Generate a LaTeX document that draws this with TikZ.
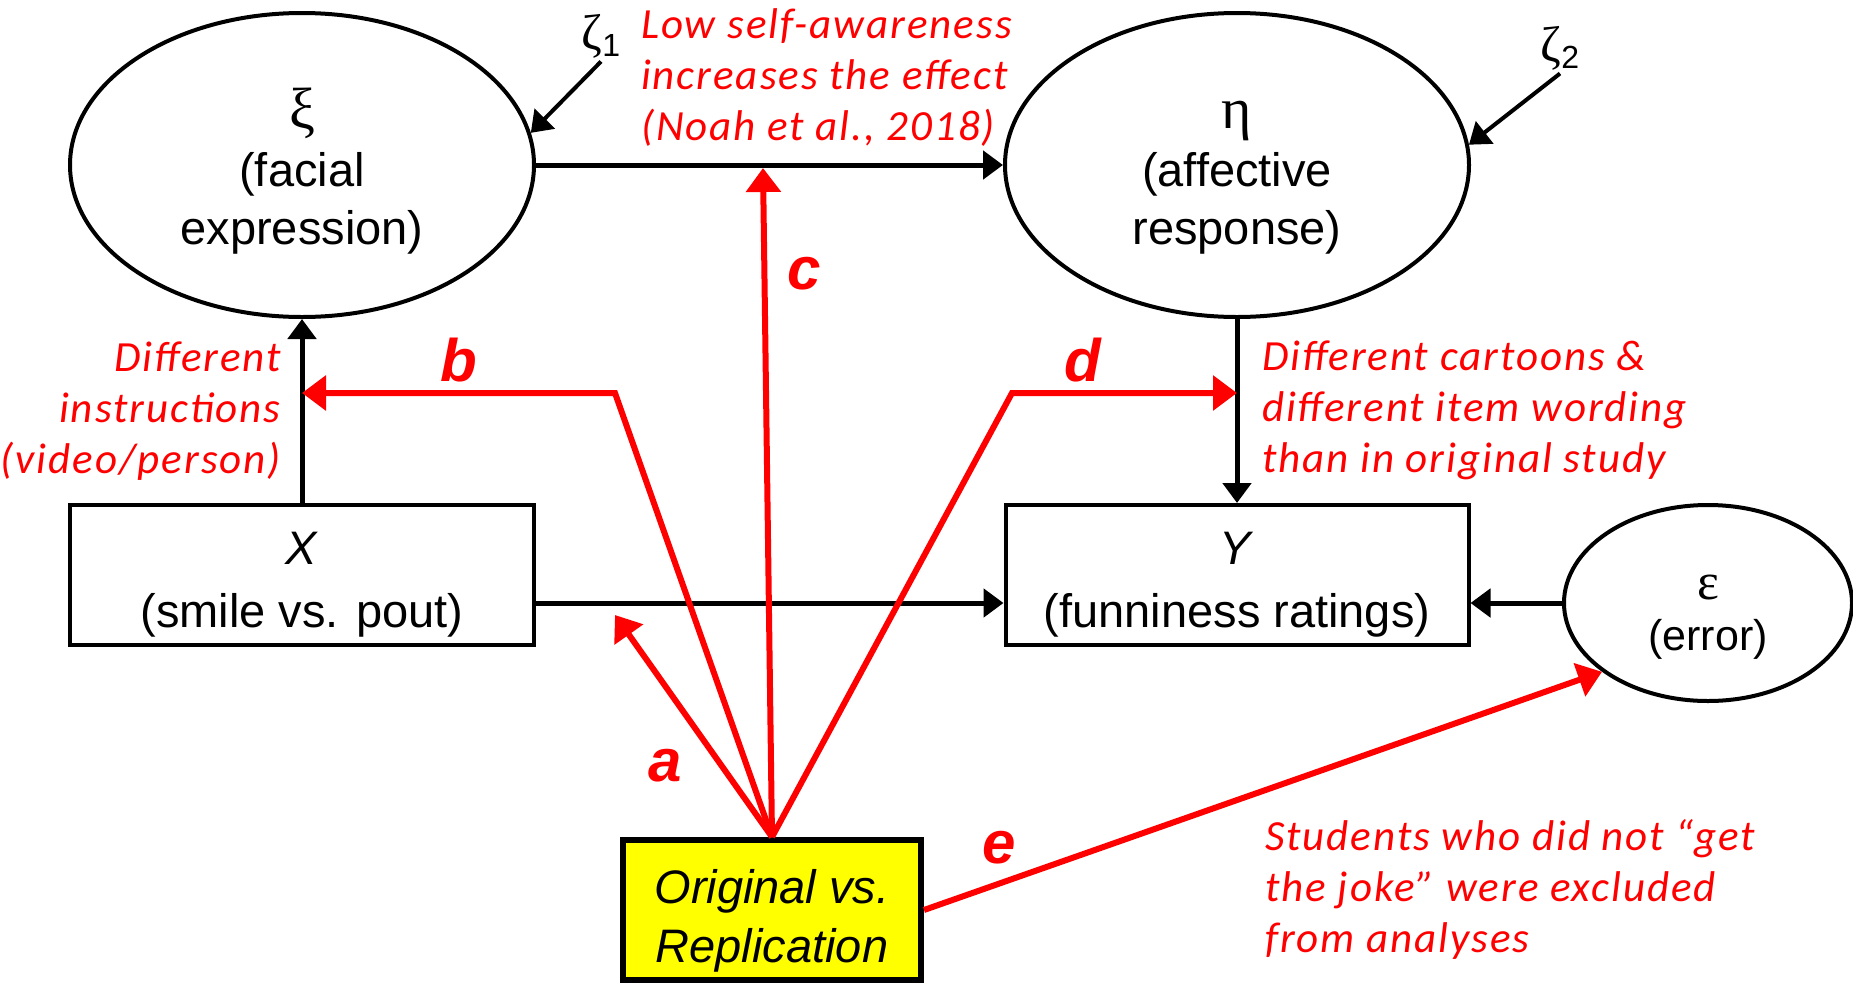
\documentclass[tikz,border=0pt]{standalone}
\usepackage{fontspec}
\setmainfont{Liberation Sans}
\newfontfamily\notefont[LetterSpace=4.5]{Carlito}
\newfontfamily\greekfont{Liberation Serif}
\usepackage{xcolor}
\usetikzlibrary{shapes.geometric,arrows.meta}
\definecolor{notered}{HTML}{FF0000}
\definecolor{boxyellow}{HTML}{FFFF00}
\newcommand{\padtop}[1]{\rule{0pt}{#1}}

\begin{document}
\begin{tikzpicture}[
x=1pt,
y=-1pt,
latent/.style={
ellipse,
draw,
line width=4pt,
inner sep=0pt,
align=center,
font=\fontsize{47}{58}\selectfont
},
observed/.style={
rectangle,
draw,
line width=4pt,
inner sep=0pt,
align=center,
font=\fontsize{47}{63}\selectfont
},
path/.style={
-{Triangle[length=20pt,width=28pt]},
line width=5pt
},
mod/.style={
-{Triangle[length=24pt,width=34pt]},
line width=6pt,
color=notered
},
note/.style={
text=notered,
inner sep=0pt,
font=\notefont\itshape\fontsize{43}{51}\selectfont
},
letter/.style={
text=notered,
inner sep=0pt,
font=\bfseries\itshape\fontsize{60}{60}\selectfont
}
]

\useasboundingbox (0,0) rectangle (1853,983);

\node[latent, minimum width=464pt, minimum height=304pt] (xi) at (302,165)
{\padtop{52pt}{\greekfont\fontsize{58}{58}\selectfont ξ}\\(facial\\expression)};

\node[latent, minimum width=464pt, minimum height=304pt] (eta) at (1237,165)
{\padtop{52pt}{\greekfont\fontsize{58}{58}\selectfont η}\\(affective\\response)};

\node[observed, minimum width=464pt, minimum height=140pt] (X) at (302,575)
{\padtop{51pt}\textit{X}\\(smile vs. pout)};

\node[observed, minimum width=463pt, minimum height=140pt] (Y) at (1237,575)
{\padtop{51pt}\textit{Y}\\(funniness ratings)};

\node[latent, minimum width=288pt, minimum height=196pt,
font=\fontsize{43}{51}\selectfont] (eps) at (1708,603)
{\padtop{52pt}{\greekfont\fontsize{52}{52}\selectfont ε}\\(error)};

\node[observed, fill=boxyellow, line width=6pt, minimum width=298pt,
minimum height=140pt, font=\itshape\fontsize{47}{59}\selectfont] (orig) at (772,910)
{\padtop{55pt}Original vs.\\Replication};

\node[font=\fontsize{50}{50}\selectfont] (zeta1) at (601,36)
{{\greekfont ζ}\raisebox{-7pt}{\fontsize{32}{32}\selectfont 1}};

\node[font=\fontsize{50}{50}\selectfont] (zeta2) at (1560,48)
{{\greekfont ζ}\raisebox{-7pt}{\fontsize{32}{32}\selectfont 2}};

% structural paths
\draw[path] (xi.east) -- (eta.west);
\draw[path] (X.north) -- (xi.south);
\draw[path] (eta.south) -- (Y.north);
\draw[path] (X.east |- eps.west) -- (Y.west |- eps.west);
\draw[path] (eps.west) -- (Y.east |- eps.west);
\draw[path, line width=4pt] (zeta1.south) -- (xi.8);
\draw[path, line width=4pt] (zeta2.south) -- (eta.5);

% moderator paths
\coordinate (bbend) at (615,393);
\coordinate (dbend) at (1012,393);
\coordinate (atip) at (615,615);
\coordinate (ctip) at (763,168);

\draw[mod] (orig.north) -- (atip);
\draw[mod] (orig.north) -- (bbend) -- (X.north |- bbend);
\draw[mod] (orig.north) -- (ctip);
\draw[mod] (orig.north) -- (dbend) -- (eta.south |- dbend);
\draw[mod] (orig.east) -- (eps.213);

\node[letter] (la) at (665,766) {a};
\node[letter] (lb) at (459,360) {b};
\node[letter] (lc) at (804,274) {c};
\node[letter] (ld) at (1083,360) {d};
\node[letter] (le) at (999,848) {e};

\node[note, anchor=north west, align=left] (selfaware) at (641,8)
{Low self-awareness\\increases the effect\\(Noah et al., 2018)};

\node[note, anchor=north east, align=right] (instr) at (281,342)
{Different\\instructions\\(video/person)};

\node[note, anchor=north west, align=left] (cartoons) at (1262,341)
{Different cartoons \&\\different item wording\\than in original study};

\node[note, anchor=north west, align=left] (joke) at (1265,819)
{Students who did not “get\\the joke” were excluded\\from analyses};

\end{tikzpicture}
\end{document}
